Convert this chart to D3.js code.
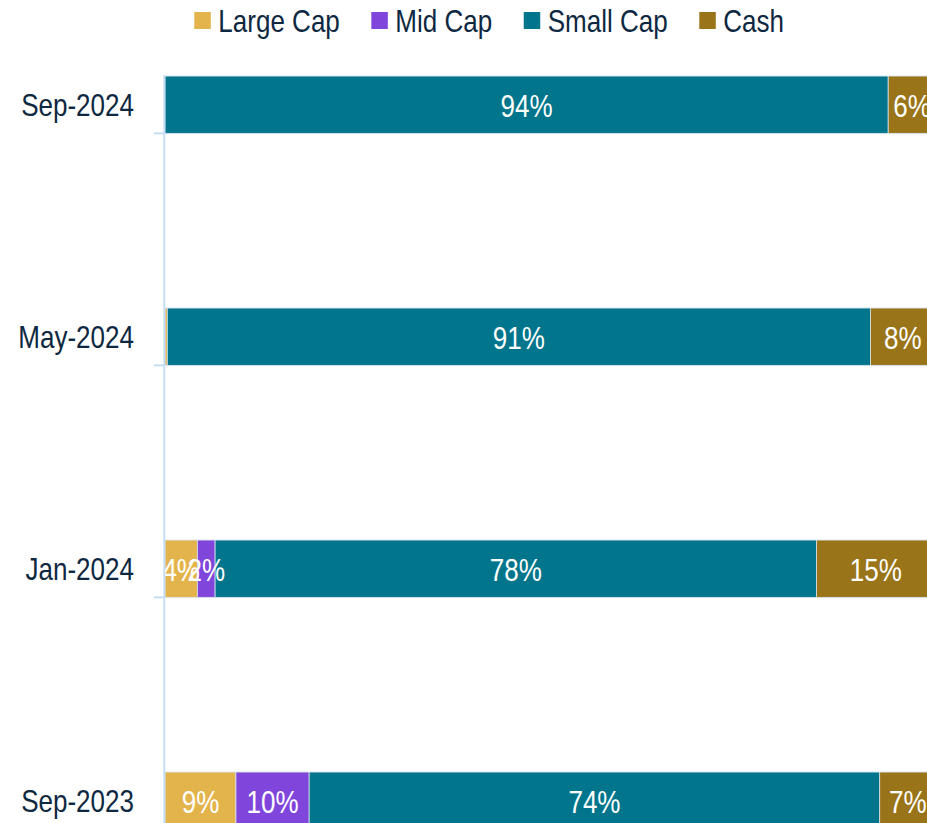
<!DOCTYPE html>
<html>
<head>
<meta charset="utf-8">
<script src="https://cdn.jsdelivr.net/npm/d3@7"></script>
<style>
  html, body { margin: 0; padding: 0; background: #fff; overflow: hidden; }
  svg { display: block; }
  text { font-family: "Liberation Sans", Arial, sans-serif; }
</style>
</head>
<body>
<svg id="chart" width="927" height="823"></svg>
<script>
// ---- data ----
const categories = ["Sep-2024", "May-2024", "Jan-2024", "Sep-2023"];
const seriesNames = ["Large Cap", "Mid Cap", "Small Cap", "Cash"];
const largeCap = [0, 0.3, 4.2, 9.2];
const midCap   = [0, 0,   2.3, 9.5];
const smallCap = [93.8, 91.2, 78.0, 74.0];
const cash     = [6.2, 8.4, 15.4, 7.3];
const colors   = ["#E3B44B", "#8046DB", "#00758C", "#9A7419"];

const seriesValues = [largeCap, midCap, smallCap, cash];
const rows = categories.map((c, i) => {
  const r = { cat: c };
  seriesNames.forEach((s, j) => r[s] = seriesValues[j][i]);
  return r;
});

const svg = d3.select("#chart");
const textColor = "#0E2841";
const fontSize = 31;
const narrow = 0.84;

function placeText(sel, fx, fy) {
  sel.attr("x", 0).attr("y", 0)
    .attr("transform", (d, i) => `translate(${fx(d, i)},${fy(d, i)}) scale(${narrow},1)`);
  return sel;
}

const x = d3.scaleLinear().domain([0, 100]).range([165, 936]);
const y = d3.scaleBand().domain(categories).range([-11.3, 916.7])
  .paddingInner(0.753).paddingOuter(0.3765);

const stacked = d3.stack().keys(seriesNames)(rows);

// bars
const g = svg.append("g");
stacked.forEach((layer, j) => {
  g.selectAll(null).data(layer).enter().append("rect")
    .attr("x", d => x(d[0]))
    .attr("y", d => y(d.data.cat))
    .attr("width", d => Math.max(0, x(d[1]) - x(d[0])))
    .attr("height", y.bandwidth())
    .attr("fill", colors[j])
    .attr("stroke", "#d6e3ee")
    .attr("stroke-width", d => (d[1] - d[0]) > 0 ? 0.8 : 0);
});

// data labels
stacked.forEach((layer, j) => {
  const t = g.selectAll(null).data(layer.filter(d => d[1] - d[0] >= 1)).enter().append("text")
    .attr("text-anchor", "middle")
    .attr("fill", "#ffffff")
    .attr("font-size", fontSize)
    .text(d => Math.round(d[1] - d[0]) + "%");
  placeText(t, d => x((d[0] + d[1]) / 2), d => y(d.data.cat) + y.bandwidth() / 2 + 12);
});

// axis line
svg.append("line")
  .attr("x1", 164.3).attr("x2", 164.3)
  .attr("y1", y(categories[0]) - 1).attr("y2", 823)
  .attr("stroke", "#C5DDF5").attr("stroke-width", 2);

// ticks (at bar bottoms)
svg.selectAll(null).data(categories).enter().append("line")
  .attr("x1", 154).attr("x2", 165)
  .attr("y1", d => y(d) + y.bandwidth())
  .attr("y2", d => y(d) + y.bandwidth())
  .attr("stroke", "#C5DDF5").attr("stroke-width", 2);

// category labels
const cl = svg.selectAll(null).data(categories).enter().append("text")
  .attr("text-anchor", "end")
  .attr("fill", textColor)
  .attr("font-size", fontSize)
  .text(d => d);
placeText(cl, () => 134, d => y(d) + y.bandwidth() / 2 + 11);

// legend
const legend = svg.append("g");
let lx = 194.3;
seriesNames.forEach((s, j) => {
  legend.append("rect")
    .attr("x", lx).attr("y", 12).attr("width", 16.5).attr("height", 17)
    .attr("fill", colors[j]);
  const t = legend.append("text")
    .attr("fill", textColor)
    .attr("font-size", fontSize)
    .text(s);
  placeText(t, () => lx + 24, () => 31.5);
  const w = t.node().getComputedTextLength() * narrow;
  lx = lx + 24 + w + 31.5;
});
</script>
</body>
</html>
